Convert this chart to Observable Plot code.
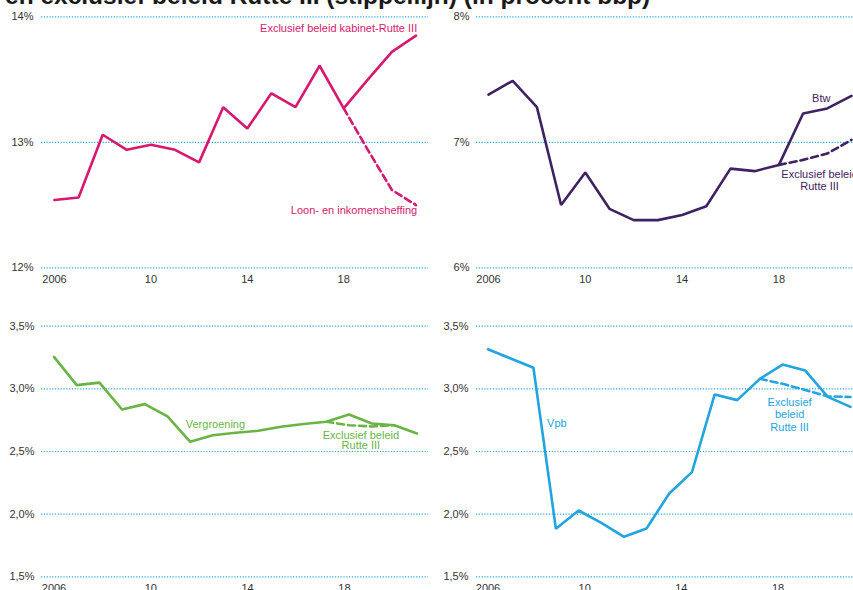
<!DOCTYPE html>
<html>
<head>
<meta charset="utf-8">
<script src="https://cdn.jsdelivr.net/npm/d3@7"></script>
<script src="https://cdn.jsdelivr.net/npm/@observablehq/plot@0.6"></script>
<style>
html,body{margin:0;padding:0;background:#fff;overflow:hidden;}
#wrap{position:relative;width:853px;height:590px;overflow:hidden;font-family:"Liberation Sans",Arial,sans-serif;}
#title{position:absolute;left:5px;top:-16px;font-size:24.5px;line-height:24px;font-weight:bold;color:#1a1a1a;white-space:nowrap;}
.panel{position:absolute;}
</style>
</head>
<body>
<div id="wrap"><div id="title">en exclusief beleid Rutte III (stippellijn) (in procent bbp)</div></div>
<script>
// ---- data ----
const years = [2006,2007,2008,2009,2010,2011,2012,2013,2014,2015,2016,2017,2018,2019,2020,2021];
const loonSolid = [12.54,12.56,13.06,12.94,12.98,12.94,12.84,13.28,13.11,13.39,13.28,13.61,13.27,13.50,13.72,13.85];
const loonDashedYears = [2018,2019,2020,2021];
const loonDashed = [13.27,12.94,12.62,12.50];

const btwSolid = [7.38,7.49,7.28,6.50,6.76,6.47,6.38,6.38,6.42,6.49,6.79,6.77,6.82,7.23,7.27,7.37];
const btwDashedYears = [2018,2019,2020,2021];
const btwDashed = [6.82,6.86,6.91,7.02];

const bottomX = [2006,2006.94,2007.88,2008.81,2009.75,2010.69,2011.63,2012.56,2013.5,2014.44,2015.38,2016.31,2017.25,2018.19,2019.13,2020.06,2021];
const groenSolid = [3.255,3.03,3.05,2.835,2.878,2.78,2.577,2.63,2.65,2.665,2.697,2.72,2.737,2.795,2.724,2.71,2.644];
const groenDashedIdx = [12,13,14,15];
const groenDashed = [2.737,2.71,2.70,2.71];

const vpbSolid = [3.316,3.242,3.168,1.883,2.029,1.931,1.819,1.886,2.165,2.335,2.955,2.91,3.08,3.194,3.146,2.936,2.856];
const vpbDashedIdx = [12,13,14,15,16];
const vpbDashed = [3.08,3.04,2.99,2.94,2.935];

const xTickYears = [2006,2010,2014,2018];
const topLeftTicks = [12,13,14];
const topRightTicks = [6,7,8];
const bottomTicks = [1.5,2.0,2.5,3.0,3.5];

// ---- style ----
const FONT = '"Liberation Sans", Arial, sans-serif';
const GRID = "#2aa9e0";
const C_LOON = "#d6196e", C_BTW = "#3f2262", C_GROEN = "#6ab446", C_VPB = "#22a5de";

const xFmt = d => d === 2006 ? "2006" : String(d - 2000);
const pctInt = d => d + "%";
const pctDec = d => d.toFixed(1).replace(".", ",") + "%";

function panel(o) {
  const chart = Plot.plot({
    width: o.width, height: o.height,
    marginLeft: o.marginLeft, marginRight: o.marginRight, marginTop: o.marginTop, marginBottom: o.marginBottom,
    style: {fontFamily: FONT, fontSize: "11px", color: "#333", background: "transparent", overflow: "visible"},
    x: {domain: [2006, 2021], range: o.xRange},
    y: {domain: o.yDomain},
    marks: [
      Plot.ruleY(o.yTicks, {stroke: GRID, strokeWidth: 1.2, strokeDasharray: "1.2,1.6"}),
      Plot.axisY({ticks: o.yTicks, tickSize: 0, tickPadding: o.yPad, tickFormat: o.yFmt, label: null, fontSize: 11, fill: "#333"}),
      Plot.axisX({ticks: xTickYears, tickSize: 0, tickPadding: 7, tickFormat: xFmt, label: null, fontSize: 11, fill: "#333"}),
      Plot.line(o.dashed, {x: "x", y: "y", stroke: o.color, strokeWidth: 2.6, strokeDasharray: "7,4"}),
      Plot.line(o.solid, {x: "x", y: "y", stroke: o.color, strokeWidth: 2.6, strokeLinejoin: "miter"}),
      ...o.labels.map(l => Plot.text([l], {x: "x", y: "y", text: "t", fill: o.color, fontSize: 11,
        textAnchor: l.anchor || "middle", lineHeight: l.lh || 1.1, lineAnchor: "middle"}))
    ]
  });
  chart.classList.add("panel");
  chart.style.left = o.left + "px";
  chart.style.top = o.top + "px";
  document.getElementById("wrap").appendChild(chart);
}

const zipXY = (xs, ys) => xs.map((x, i) => ({x, y: ys[i]}));

panel({
  left: 0, top: 0, width: 430, height: 295, marginLeft: 41, marginRight: 2, marginTop: 16.3, marginBottom: 27.7,
  xRange: [54, 415.5], yDomain: [12, 14], yTicks: topLeftTicks, yFmt: pctInt, yPad: 8, color: C_LOON,
  solid: zipXY(years, loonSolid), dashed: zipXY(loonDashedYears, loonDashed),
  labels: [
    {x: 2021.05, y: 13.91, t: "Exclusief beleid kabinet-Rutte III", anchor: "end"},
    {x: 2021.05, y: 12.46, t: "Loon- en inkomensheffing", anchor: "end"}
  ]
});

panel({
  left: 430, top: 0, width: 423, height: 295, marginLeft: 46, marginRight: 0, marginTop: 16.3, marginBottom: 27.7,
  xRange: [58, 421], yDomain: [6, 8], yTicks: topRightTicks, yFmt: pctInt, yPad: 7, color: C_BTW,
  solid: zipXY(years, btwSolid), dashed: zipXY(btwDashedYears, btwDashed),
  labels: [
    {x: 2019.75, y: 7.35, t: "Btw"},
    {x: 2019.68, y: 6.696, t: "Exclusief beleid\nRutte III", lh: 1.1}
  ]
});

panel({
  left: 0, top: 300, width: 430, height: 300, marginLeft: 41, marginRight: 2, marginTop: 25.7, marginBottom: 23.7,
  xRange: [53.5, 416.5], yDomain: [1.5, 3.5], yTicks: bottomTicks, yFmt: pctDec, yPad: 7, color: C_GROEN,
  solid: zipXY(bottomX, groenSolid), dashed: groenDashedIdx.map((i, k) => ({x: bottomX[i], y: groenDashed[k]})),
  labels: [
    {x: 2012.67, y: 2.718, t: "Vergroening"},
    {x: 2018.68, y: 2.585, t: "Exclusief beleid\nRutte III", lh: 0.95}
  ]
});

panel({
  left: 430, top: 300, width: 423, height: 300, marginLeft: 46, marginRight: 0, marginTop: 25.7, marginBottom: 23.7,
  xRange: [57.5, 420], yDomain: [1.5, 3.5], yTicks: bottomTicks, yFmt: pctDec, yPad: 8, color: C_VPB,
  solid: zipXY(bottomX, vpbSolid), dashed: vpbDashedIdx.map((i, k) => ({x: bottomX[i], y: vpbDashed[k]})),
  labels: [
    {x: 2008.85, y: 2.729, t: "Vpb"},
    {x: 2018.48, y: 2.796, t: "Exclusief\nbeleid\nRutte III", lh: 1.15}
  ]
});
</script>
</body>
</html>
